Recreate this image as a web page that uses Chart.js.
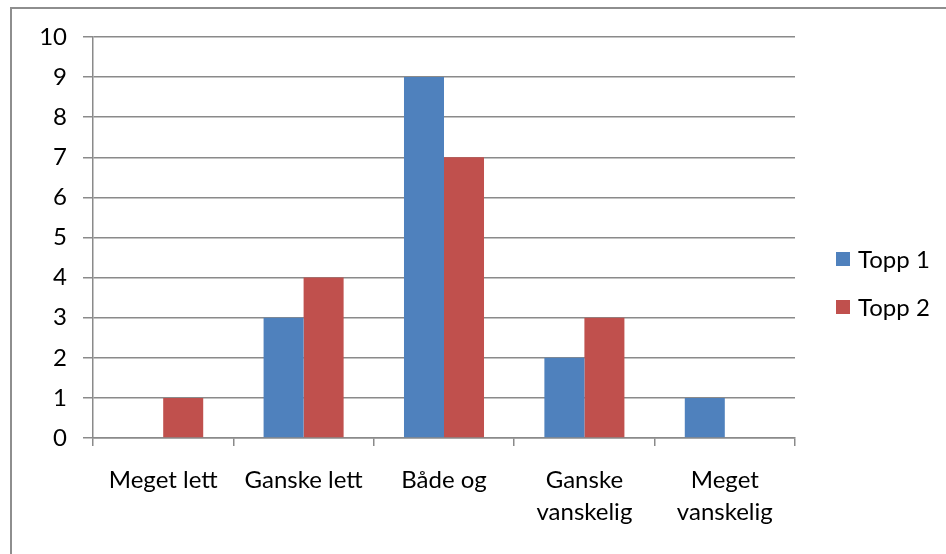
<!DOCTYPE html>
<html>
<head>
<meta charset="utf-8">
<script src="https://cdn.jsdelivr.net/npm/chart.js@4/dist/chart.umd.min.js"></script>
<style>
  html, body { margin: 0; padding: 0; background: #fff; overflow: hidden; }
  #wrap { position: relative; width: 946px; height: 554px; }
  #frame { position: absolute; left: 10px; top: 7px; width: 1000px; height: 600px;
           border-left: 2px solid #8e8e8e; border-top: 2px solid #8e8e8e; }
  canvas { position: absolute; left: 0; top: 0; }
</style>
</head>
<body>
<div id="wrap">
  <div id="frame"></div>
  <canvas id="chart" width="946" height="554"></canvas>
</div>
<script>
const categories = [['Meget lett'], ['Ganske lett'], ['Både og'], ['Ganske', 'vanskelig'], ['Meget', 'vanskelig']];
const topp1 = [0, 3, 9, 2, 1];
const topp2 = [1, 4, 7, 3, 0];
const seriesNames = ['Topp 1', 'Topp 2'];
const seriesColors = ['#4F81BD', '#C0504D'];

const FONT = 'Lato, "Noto Sans", sans-serif';
const gridColor = '#8a8a8a';

// legend drawn by hand so it sits where Excel puts it
const sideLegend = {
    id: 'sideLegend',
    afterDraw(chart) {
        const ctx = chart.ctx;
        ctx.save();
        ctx.font = '24px ' + FONT;
        ctx.textBaseline = 'middle';
        chart.data.datasets.forEach((ds, i) => {
            const cy = 259 + i * 48;
            ctx.fillStyle = ds.backgroundColor;
            ctx.fillRect(836, cy - 7, 14, 14);
            ctx.fillStyle = '#000';
            ctx.fillText(ds.label, 858, cy + 1);
        });
        ctx.restore();
    }
};

new Chart(document.getElementById('chart'), {
    type: 'bar',
    data: {
        labels: categories,
        datasets: [
            { label: seriesNames[0], data: topp1, backgroundColor: seriesColors[0] },
            { label: seriesNames[1], data: topp2, backgroundColor: seriesColors[1] }
        ]
    },
    options: {
        responsive: false,
        animation: false,
        layout: { padding: { top: 37, left: 0, right: 151, bottom: 0 } },
        datasets: { bar: { categoryPercentage: 0.57, barPercentage: 1.0 } },
        plugins: {
            legend: { display: false },
            tooltip: { enabled: false }
        },
        scales: {
            x: {
                grid: { drawOnChartArea: false, drawTicks: true, tickLength: 8, color: gridColor, lineWidth: 1.5 },
                border: { color: gridColor, width: 1.5 },
                ticks: { color: '#000', font: { family: FONT, size: 24, lineHeight: 1.3 }, padding: 19, maxRotation: 0, autoSkip: false },
                afterFit(scale) { scale.height = 116; }
            },
            y: {
                min: 0,
                max: 10,
                ticks: { stepSize: 1, color: '#000', font: { family: FONT, size: 24 }, padding: 16 },
                grid: { color: gridColor, lineWidth: 1.5, tickLength: 10 },
                border: { color: gridColor, width: 1.5 },
                afterFit(scale) { scale.width = 93; }
            }
        }
    },
    plugins: [sideLegend]
});
</script>
</body>
</html>
